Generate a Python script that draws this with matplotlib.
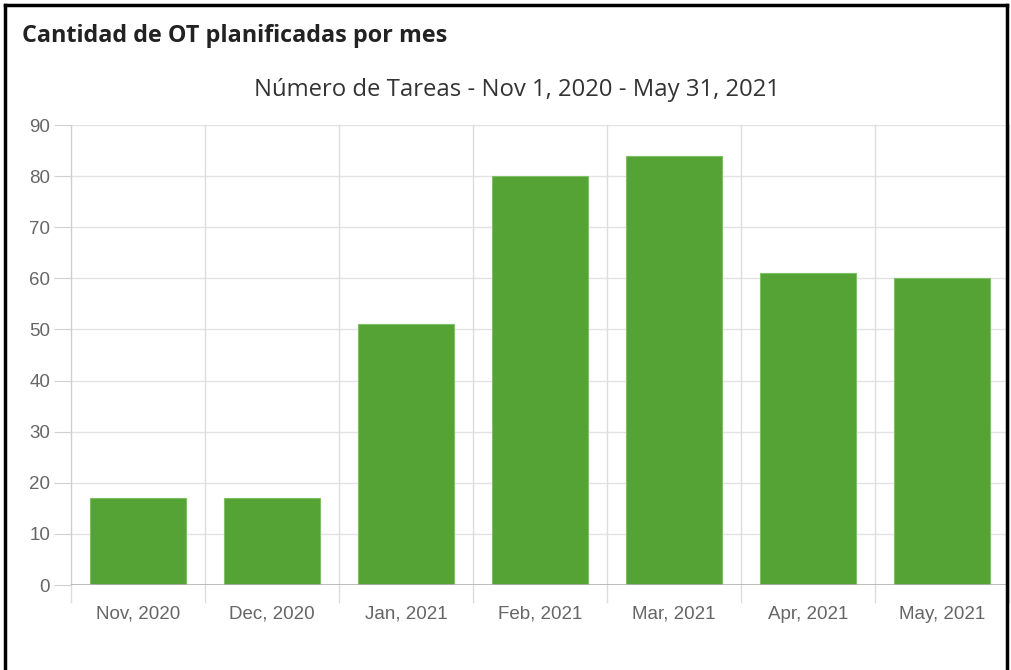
import matplotlib
matplotlib.use("Agg")
import matplotlib.pyplot as plt
from matplotlib.lines import Line2D

categories = ["Nov, 2020", "Dec, 2020", "Jan, 2021", "Feb, 2021", "Mar, 2021", "Apr, 2021", "May, 2021"]
values = [17, 17, 51, 80, 84, 61, 60]
y_ticks = [0, 10, 20, 30, 40, 50, 60, 70, 80, 90]

W, H = 1011, 670
fig = plt.figure(figsize=(W / 100, H / 100), dpi=100)
fig.patch.set_facecolor("white")

ax = fig.add_axes([71 / W, (H - 585) / H, (1009 - 71) / W, (585 - 125) / H])
x = list(range(len(categories)))
ax.bar(x, values, width=0.72, color="#55a334", edgecolor="#7fbf66", linewidth=0.8, zorder=3)
ax.set_xlim(-0.5, len(categories) - 0.5)
ax.set_ylim(0, 90)
ax.set_yticks(y_ticks)
ax.set_yticklabels([str(v) for v in y_ticks], fontfamily="Liberation Sans", fontsize=13.5, color="#666666")
ax.set_xticks(x)
ax.set_xticklabels(categories, fontfamily="Liberation Sans", fontsize=13.5, color="#666666")
ax.tick_params(axis="x", length=0, pad=15)
ax.tick_params(axis="y", length=12, color="#d0d0d0", pad=3)

# gridlines
for v in y_ticks[1:]:
    ax.axhline(v, color="#e3e3e3", linewidth=1, zorder=1)
for b in [i - 0.5 for i in range(len(categories) + 1)]:
    ax.plot([b, b], [-3.3, 90], color="#dddddd", linewidth=1, zorder=1, clip_on=False)
for s in ["top", "right", "bottom"]:
    ax.spines[s].set_visible(False)
ax.spines["left"].set_color("#d0d0d0")
ax.axhline(0, color="#b0b0b0", linewidth=1.2, zorder=4)

fig.text(22 / W, 1 - 36 / H, "Cantidad de OT planificadas por mes", fontfamily="Open Sans",
         fontweight="bold", fontsize=16.8, color="#222222", va="center", ha="left")
fig.text(517 / W, 1 - 90 / H, "Número de Tareas - Nov 1, 2020 - May 31, 2021", fontfamily="Open Sans",
         fontsize=17.2, color="#333333", va="center", ha="center")

# frame border
fig.add_artist(Line2D([5 / W, 5 / W], [0, 1 - 5 / H], color="black", linewidth=2.5))
fig.add_artist(Line2D([5 / W, 1007 / W], [1 - 5 / H, 1 - 5 / H], color="black", linewidth=2.5))
fig.add_artist(Line2D([1007 / W, 1007 / W], [0, 1 - 5 / H], color="black", linewidth=2.5))

fig.savefig("out.png", dpi=100)
